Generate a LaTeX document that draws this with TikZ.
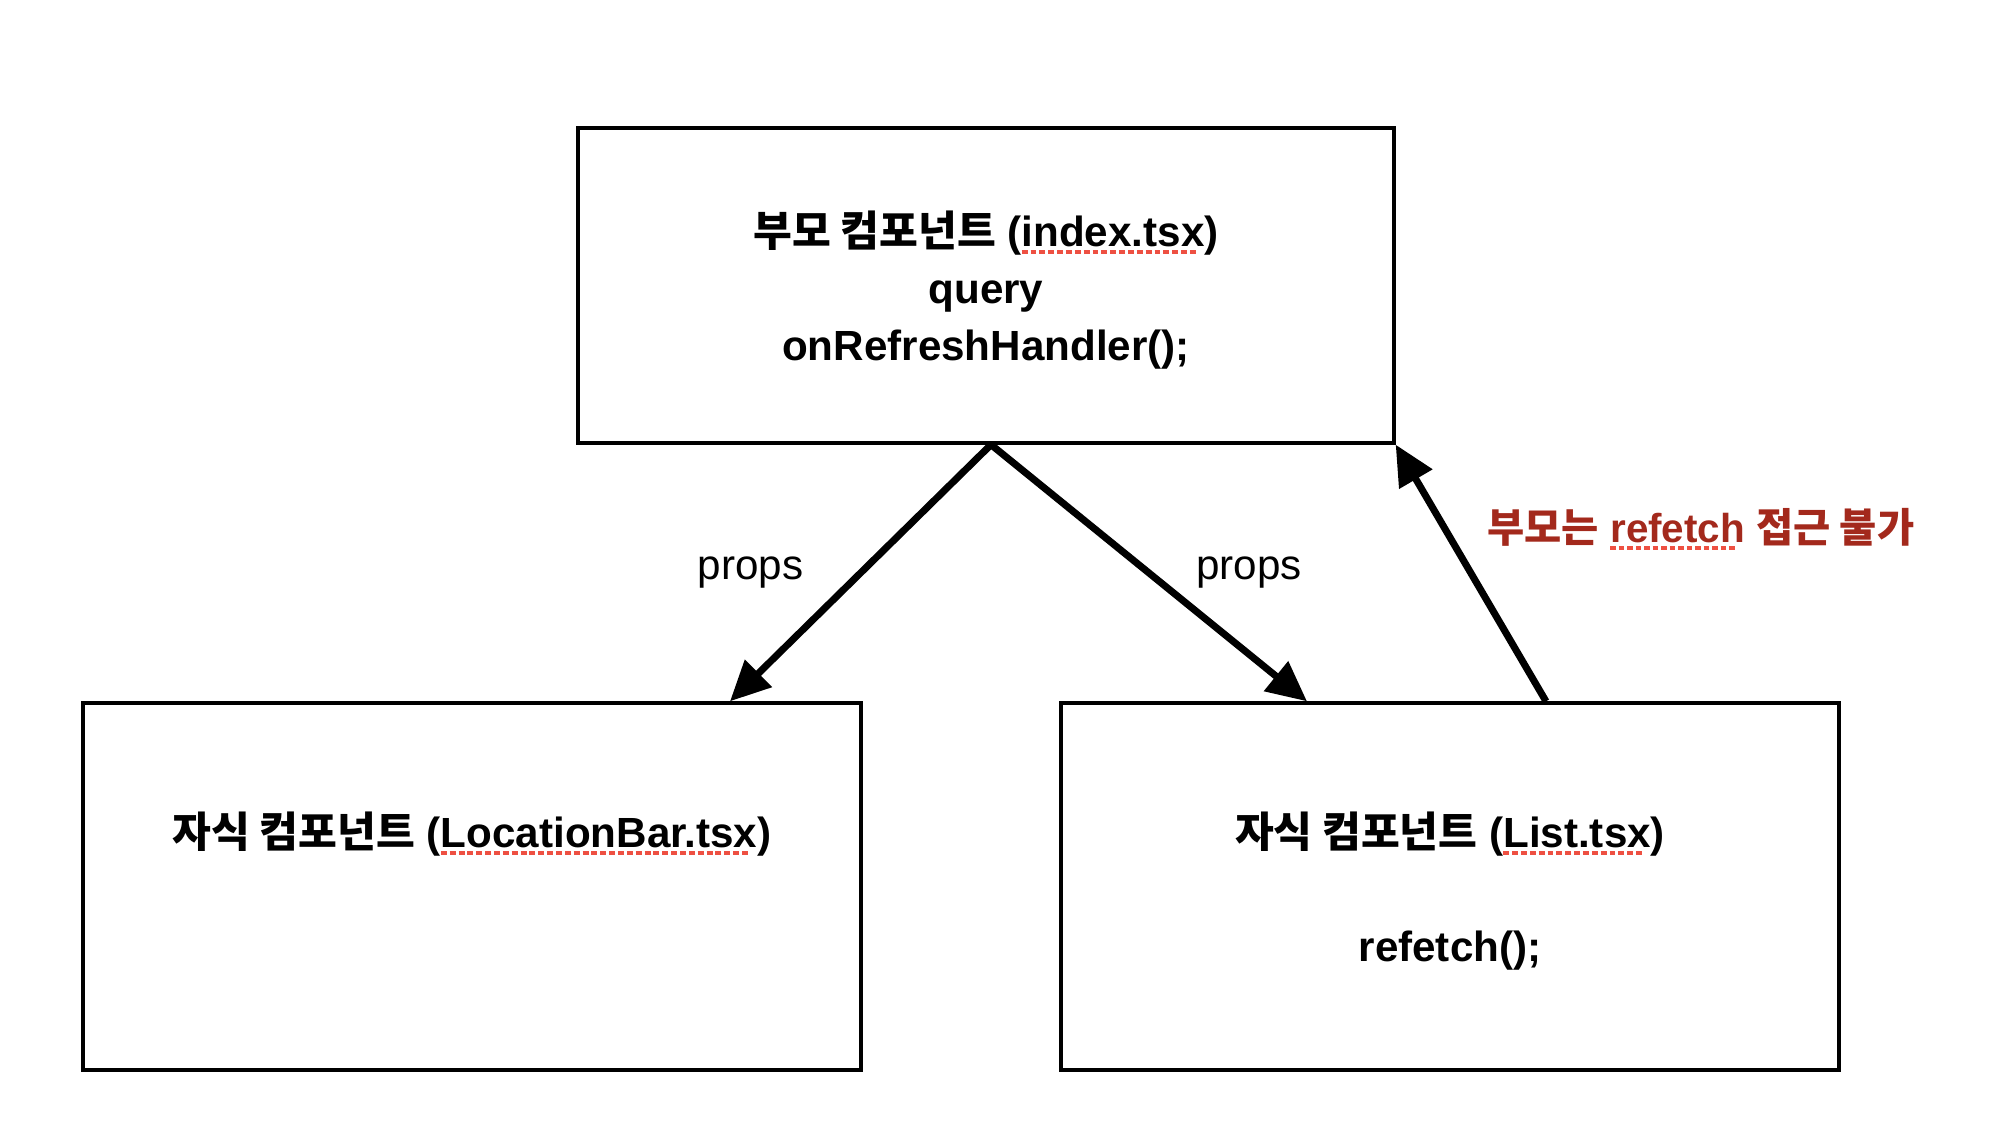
\documentclass[tikz,border=0pt]{standalone}
\usepackage{fontspec}
\usetikzlibrary{arrows.meta}
\setmainfont{Liberation Sans}
\newfontfamily\kofont{Noto Sans CJK KR}
\newcommand\ko[1]{{\kofont #1}}
\definecolor{spellred}{RGB}{238,80,66}
\definecolor{notered}{RGB}{163,41,28}
\newsavebox\spellbox
\newcommand\spell[1]{\sbox\spellbox{#1}\rlap{\color{spellred}\hbox to\wd\spellbox{\leaders\hbox{\rule[-0.18em]{0.14em}{0.11em}\kern0.07em}\hfil}}\usebox\spellbox}
\newcommand\topstrut{\rule{0pt}{15.3pt}}

\tikzset{
    comp/.style={draw, line width=0.95pt, inner sep=0pt, align=center, font=\bfseries\fontsize{12}{16.2}\selectfont},
    flow/.style={line width=2pt, -{Triangle[length=0.4cm,width=0.37cm]}},
    note/.style={font=\fontsize{12}{14}\selectfont},
}

\begin{document}
\begin{tikzpicture}
    \useasboundingbox (0,0) rectangle (20.02,11.40);

    \node[comp, minimum width=8.16cm, minimum height=3.15cm](parent) at (9.86,8.545)
        {\topstrut\ko{부모 컴포넌트} (\spell{index.tsx})\\query\\onRefreshHandler();\strut};
    \node[comp, minimum width=7.78cm, minimum height=3.67cm](locbar) at (4.72,2.535)
        {\topstrut\ko{자식 컴포넌트} (\spell{LocationBar.tsx})\\\mbox{}\\\strut};
    \node[comp, minimum width=7.78cm, minimum height=3.67cm](list) at (14.50,2.535)
        {\topstrut\ko{자식 컴포넌트} (\spell{List.tsx})\\\mbox{}\\refetch();\strut};

    \draw[flow]([xshift=0.05cm]parent.south)--([xshift=2.58cm]locbar.north)node[midway,left=0.42cm,note]{props};
    \draw[flow]([xshift=0.05cm]parent.south)--([xshift=-1.43cm]list.north)node[midway,right=0.32cm,note]{props};
    \draw[flow]([xshift=0.96cm]list.north)--(parent.south east)
        node[pos=0.67,right=0.27cm,font=\bfseries\fontsize{11.5}{14}\selectfont,text=notered]{\ko{부모는} \spell{refetch} \ko{접근 불가}};
\end{tikzpicture}
\end{document}
